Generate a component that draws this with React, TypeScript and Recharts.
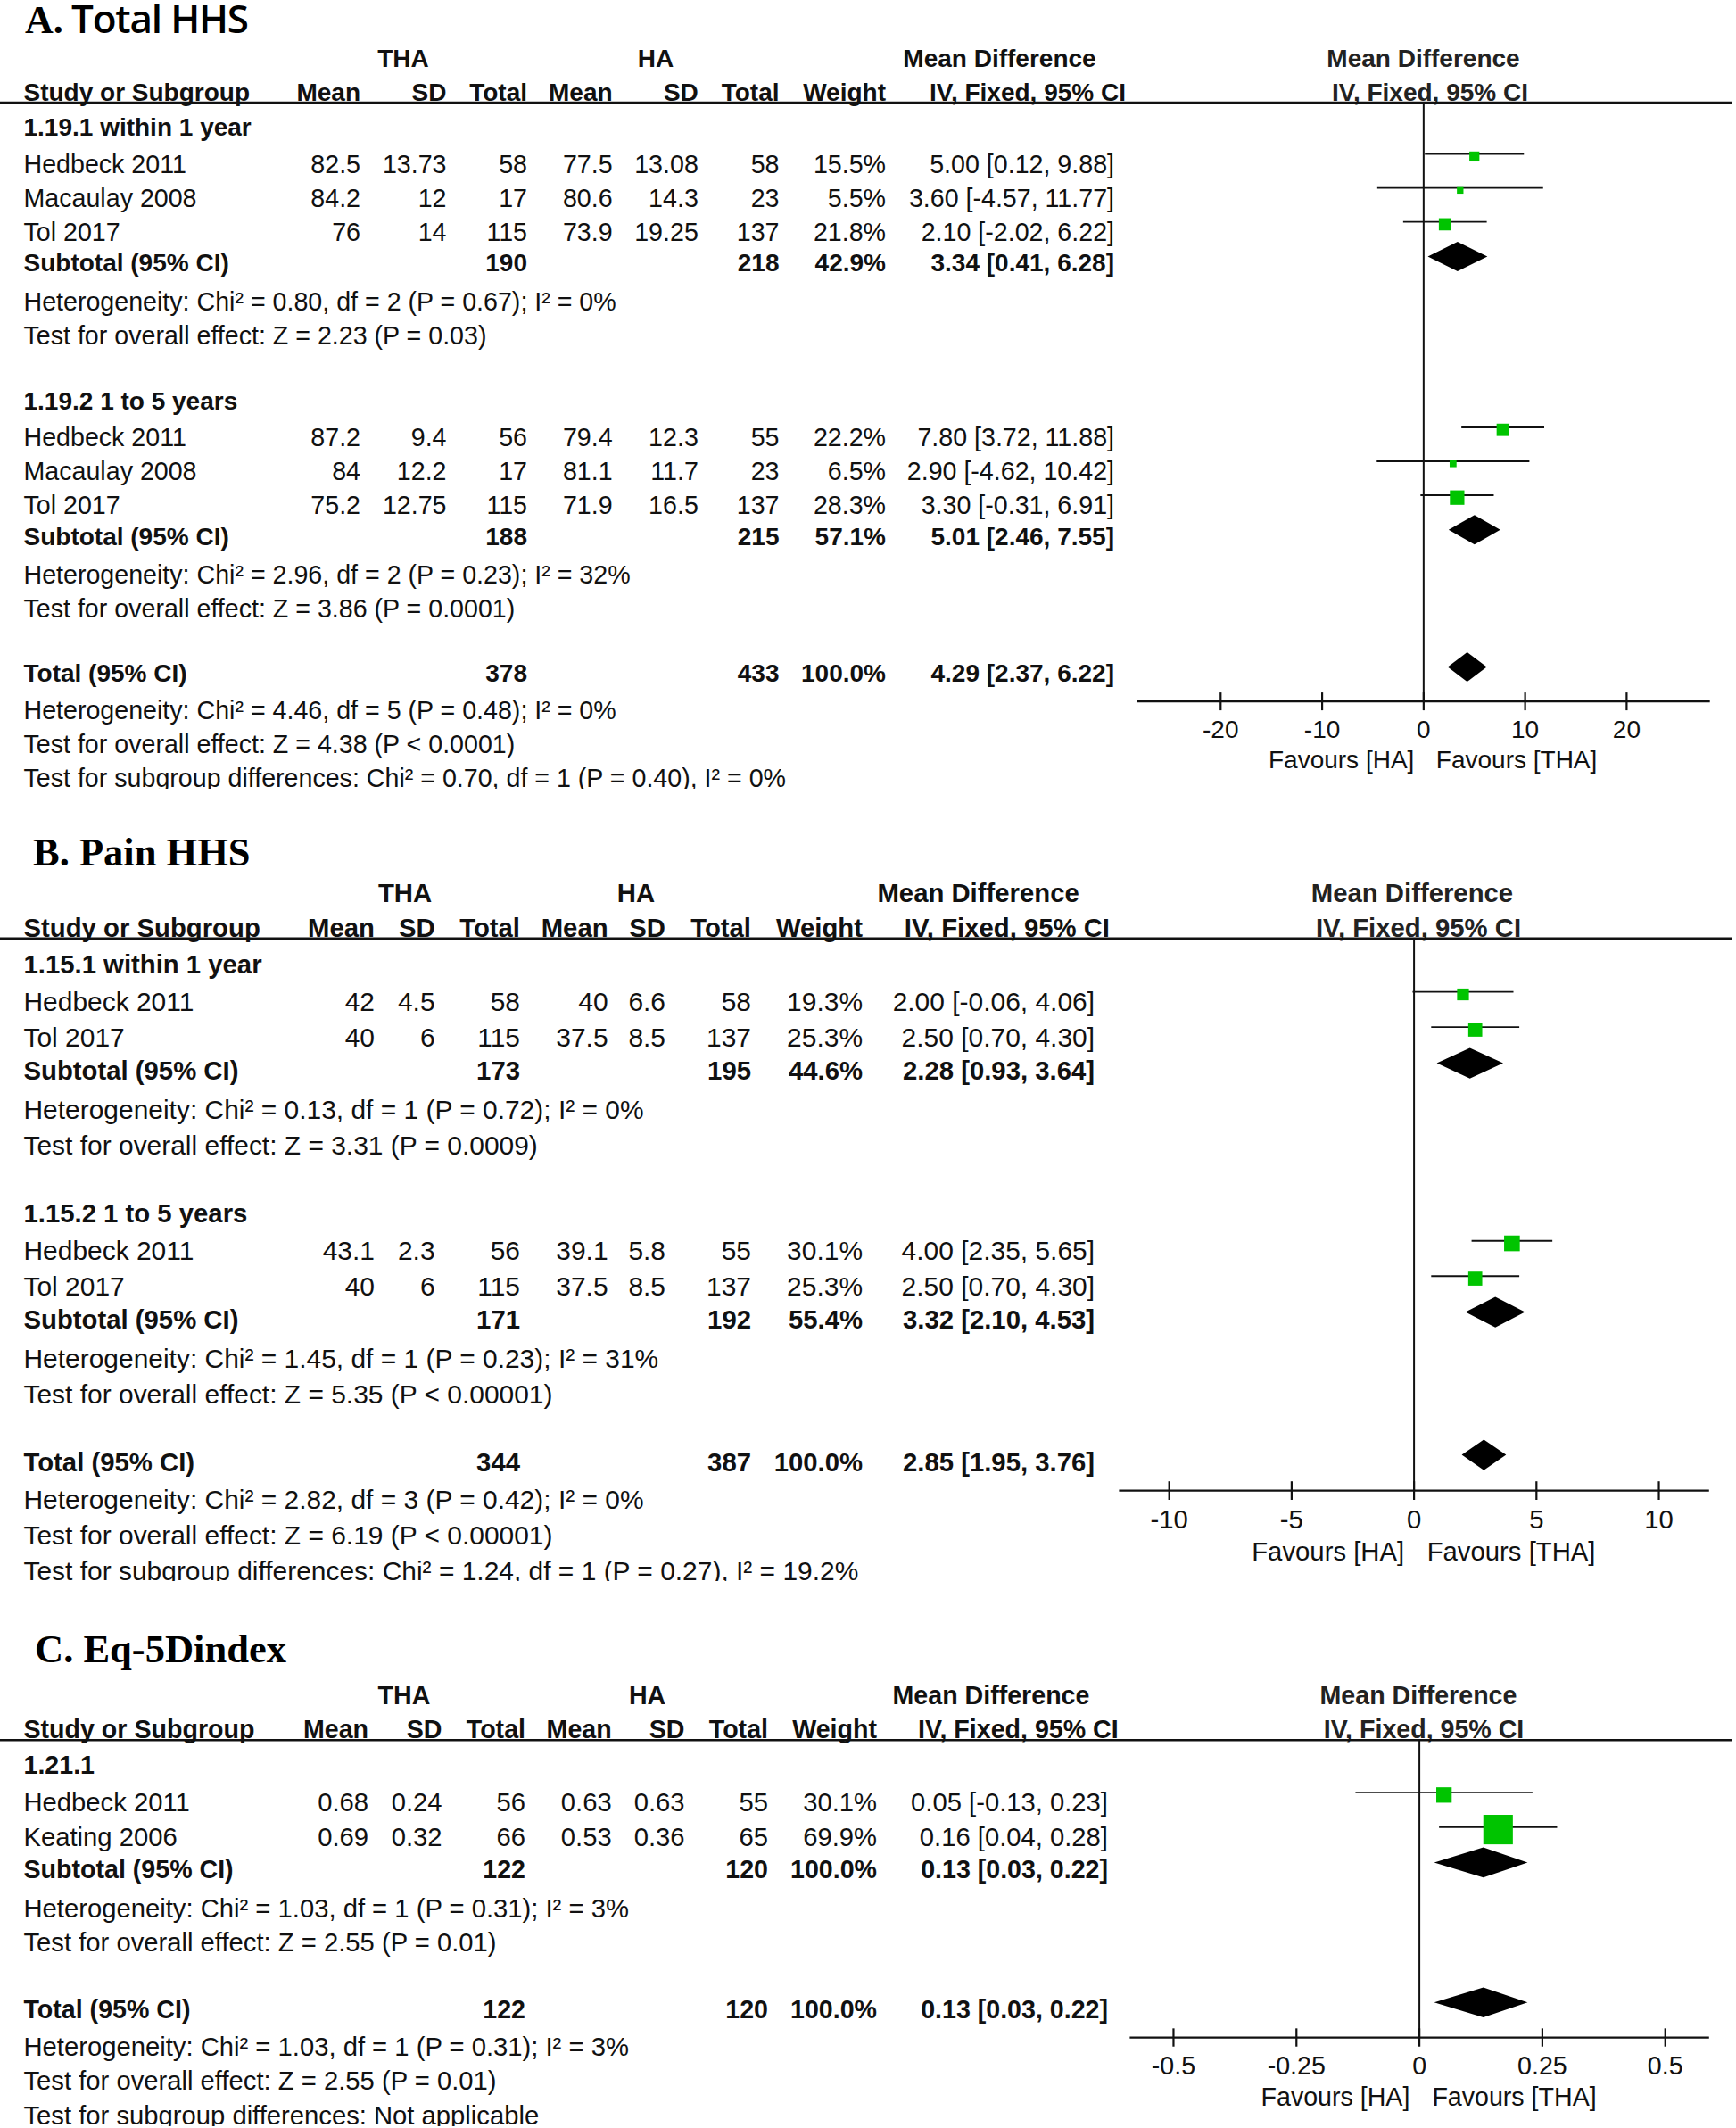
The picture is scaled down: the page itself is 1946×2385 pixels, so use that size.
import React from 'react';
import { ComposedChart, XAxis, YAxis, Scatter, ErrorBar, Area, ReferenceLine } from 'recharts';

// ================= Panel A : Total HHS =================
const aTitle = 'A. Total HHS';
const aG1Heading = '1.19.1 within 1 year';
const aG1Studies = ['Hedbeck 2011', 'Macaulay 2008', 'Tol 2017'];
const aG1Tha = [[82.5, 13.73, 58], [84.2, 12, 17], [76, 14, 115]]; // mean, sd, total
const aG1Ha = [[77.5, 13.08, 58], [80.6, 14.3, 23], [73.9, 19.25, 137]];
const aG1Weight = [15.5, 5.5, 21.8];
const aG1MD = [[5.0, 0.12, 9.88], [3.6, -4.57, 11.77], [2.1, -2.02, 6.22]]; // md, lo, hi
const aG1Sub = [190, 218, 42.9, 3.34, 0.41, 6.28]; // thaN, haN, weight, md, lo, hi
const aG1Het = 'Heterogeneity: Chi² = 0.80, df = 2 (P = 0.67); I² = 0%';
const aG1Test = 'Test for overall effect: Z = 2.23 (P = 0.03)';

const aG2Heading = '1.19.2 1 to 5 years';
const aG2Studies = ['Hedbeck 2011', 'Macaulay 2008', 'Tol 2017'];
const aG2Tha = [[87.2, 9.4, 56], [84, 12.2, 17], [75.2, 12.75, 115]];
const aG2Ha = [[79.4, 12.3, 55], [81.1, 11.7, 23], [71.9, 16.5, 137]];
const aG2Weight = [22.2, 6.5, 28.3];
const aG2MD = [[7.8, 3.72, 11.88], [2.9, -4.62, 10.42], [3.3, -0.31, 6.91]];
const aG2Sub = [188, 215, 57.1, 5.01, 2.46, 7.55];
const aG2Het = 'Heterogeneity: Chi² = 2.96, df = 2 (P = 0.23); I² = 32%';
const aG2Test = 'Test for overall effect: Z = 3.86 (P = 0.0001)';

const aTotal = [378, 433, 100.0, 4.29, 2.37, 6.22];
const aTotalHet = 'Heterogeneity: Chi² = 4.46, df = 5 (P = 0.48); I² = 0%';
const aTotalTest = 'Test for overall effect: Z = 4.38 (P < 0.0001)';
const aSubgroupTest = 'Test for subgroup differences: Chi² = 0.70, df = 1 (P = 0.40), I² = 0%';
const aTicks = [-20, -10, 0, 10, 20];

// ================= Panel B : Pain HHS =================
const bTitle = 'B. Pain HHS';
const bG1Heading = '1.15.1 within 1 year';
const bG1Studies = ['Hedbeck 2011', 'Tol 2017'];
const bG1Tha = [[42, 4.5, 58], [40, 6, 115]];
const bG1Ha = [[40, 6.6, 58], [37.5, 8.5, 137]];
const bG1Weight = [19.3, 25.3];
const bG1MD = [[2.0, -0.06, 4.06], [2.5, 0.7, 4.3]];
const bG1Sub = [173, 195, 44.6, 2.28, 0.93, 3.64];
const bG1Het = 'Heterogeneity: Chi² = 0.13, df = 1 (P = 0.72); I² = 0%';
const bG1Test = 'Test for overall effect: Z = 3.31 (P = 0.0009)';

const bG2Heading = '1.15.2 1 to 5 years';
const bG2Studies = ['Hedbeck 2011', 'Tol 2017'];
const bG2Tha = [[43.1, 2.3, 56], [40, 6, 115]];
const bG2Ha = [[39.1, 5.8, 55], [37.5, 8.5, 137]];
const bG2Weight = [30.1, 25.3];
const bG2MD = [[4.0, 2.35, 5.65], [2.5, 0.7, 4.3]];
const bG2Sub = [171, 192, 55.4, 3.32, 2.1, 4.53];
const bG2Het = 'Heterogeneity: Chi² = 1.45, df = 1 (P = 0.23); I² = 31%';
const bG2Test = 'Test for overall effect: Z = 5.35 (P < 0.00001)';

const bTotal = [344, 387, 100.0, 2.85, 1.95, 3.76];
const bTotalHet = 'Heterogeneity: Chi² = 2.82, df = 3 (P = 0.42); I² = 0%';
const bTotalTest = 'Test for overall effect: Z = 6.19 (P < 0.00001)';
const bSubgroupTest = 'Test for subgroup differences: Chi² = 1.24, df = 1 (P = 0.27), I² = 19.2%';
const bTicks = [-10, -5, 0, 5, 10];

// ================= Panel C : Eq-5D index =================
const cTitle = 'C. Eq-5Dindex';
const cG1Heading = '1.21.1';
const cG1Studies = ['Hedbeck 2011', 'Keating 2006'];
const cG1Tha = [[0.68, 0.24, 56], [0.69, 0.32, 66]];
const cG1Ha = [[0.63, 0.63, 55], [0.53, 0.36, 65]];
const cG1Weight = [30.1, 69.9];
const cG1MD = [[0.05, -0.13, 0.23], [0.16, 0.04, 0.28]];
const cG1Sub = [122, 120, 100.0, 0.13, 0.03, 0.22];
const cG1Het = 'Heterogeneity: Chi² = 1.03, df = 1 (P = 0.31); I² = 3%';
const cG1Test = 'Test for overall effect: Z = 2.55 (P = 0.01)';

const cTotal = [122, 120, 100.0, 0.13, 0.03, 0.22];
const cTotalHet = 'Heterogeneity: Chi² = 1.03, df = 1 (P = 0.31); I² = 3%';
const cTotalTest = 'Test for overall effect: Z = 2.55 (P = 0.01)';
const cSubgroupTest = 'Test for subgroup differences: Not applicable';
const cTicks = [-0.5, -0.25, 0, 0.25, 0.5];

// ================= Types & assembly =================
type Group = {
  heading: string; studies: string[]; tha: number[][]; ha: number[][]; weight: number[];
  md: number[][]; sub: number[]; het: string; test: string;
};
type PanelData = {
  title: string; groups: Group[]; total: number[]; totalHet: string; totalTest: string;
  subgroupTest: string; ticks: number[];
};

const panelA: PanelData = {
  title: aTitle,
  groups: [
    { heading: aG1Heading, studies: aG1Studies, tha: aG1Tha, ha: aG1Ha, weight: aG1Weight, md: aG1MD, sub: aG1Sub, het: aG1Het, test: aG1Test },
    { heading: aG2Heading, studies: aG2Studies, tha: aG2Tha, ha: aG2Ha, weight: aG2Weight, md: aG2MD, sub: aG2Sub, het: aG2Het, test: aG2Test },
  ],
  total: aTotal, totalHet: aTotalHet, totalTest: aTotalTest, subgroupTest: aSubgroupTest, ticks: aTicks,
};
const panelB: PanelData = {
  title: bTitle,
  groups: [
    { heading: bG1Heading, studies: bG1Studies, tha: bG1Tha, ha: bG1Ha, weight: bG1Weight, md: bG1MD, sub: bG1Sub, het: bG1Het, test: bG1Test },
    { heading: bG2Heading, studies: bG2Studies, tha: bG2Tha, ha: bG2Ha, weight: bG2Weight, md: bG2MD, sub: bG2Sub, het: bG2Het, test: bG2Test },
  ],
  total: bTotal, totalHet: bTotalHet, totalTest: bTotalTest, subgroupTest: bSubgroupTest, ticks: bTicks,
};
const panelC: PanelData = {
  title: cTitle,
  groups: [
    { heading: cG1Heading, studies: cG1Studies, tha: cG1Tha, ha: cG1Ha, weight: cG1Weight, md: cG1MD, sub: cG1Sub, het: cG1Het, test: cG1Test },
  ],
  total: cTotal, totalHet: cTotalHet, totalTest: cTotalTest, subgroupTest: cSubgroupTest, ticks: cTicks,
};

// ================= Layout / style =================
type Layout = {
  top: number; s: number; fs: number; titleSize: number; titleX: number; titleY: number; mixedTitle: boolean;
  lineY: number; cols: number[]; ivRight: number; thaC: number; haC: number; mdC: number;
  plotMdC: number; plotIvC: number; axisStart: number; axisEnd: number; domain: [number, number];
};

const layoutA: Layout = {
  top: 0, s: 1, fs: 28, titleSize: 44, titleX: 28, titleY: 37, mixedTitle: true,
  lineY: 115, cols: [404, 500.5, 591, 686.6, 782.8, 873.5, 993, 1249], ivRight: 1262,
  thaC: 452, haC: 735, mdC: 1120.5, plotMdC: 1595.5, plotIvC: 1603,
  axisStart: 1275, axisEnd: 1916.7, domain: [-28.2, 28.2],
};
const layoutB: Layout = {
  top: 890, s: 1.04, fs: 29.3, titleSize: 44.5, titleX: 37, titleY: 970, mixedTitle: false,
  lineY: 1051.7, cols: [420, 487.6, 583, 681.6, 746, 842, 967, 1227], ivRight: 1244,
  thaC: 454, haC: 713, mdC: 1096.6, plotMdC: 1583, plotIvC: 1590,
  axisStart: 1254.4, axisEnd: 1915.8, domain: [-12.05, 12.05],
};
const layoutC: Layout = {
  top: 1780, s: 1.02, fs: 28.6, titleSize: 44.5, titleX: 39, titleY: 1863, mixedTitle: false,
  lineY: 1950.2, cols: [413, 495.5, 589, 685.7, 767.5, 861, 983, 1242], ivRight: 1253.7,
  thaC: 453, haC: 725.6, mdC: 1111, plotMdC: 1590, plotIvC: 1596,
  axisStart: 1266.4, axisEnd: 1915.8, domain: [-0.589, 0.589],
};

const GAP = {
  lineToGroup: 27.7, groupToStudy: 40.8, studyToStudy: 38.0, studyToSubtotal: 35.2,
  subtotalToHet: 43.0, hetToTest: 37.8, testToGroup: 73.5, testToTotal: 73.0,
  totalToHet: 41.2, testToSubgroup: 38.5, totalToAxis: 31.3,
};
const CI_OFF = 10.8;     // CI line above text centre
const SQ_OFF = 8.1;      // square centre above text centre
const DIA_OFF = 7.2;     // diamond centre above text centre
const DIA_HALF = 16.5;   // diamond half height
const REG_SCALE = 1.022; // regular table text is a touch wider than bold headers

const FONT = '"Liberation Sans", Arial, Helvetica, sans-serif';
const SERIF = '"Liberation Serif", "Times New Roman", serif';
const INK = '#111';
const GREEN = '#00C400';
const LEFT_X = 26.5;

const num = (v: number) => String(v);
const pct = (v: number) => v.toFixed(1) + '%';
const ciText = (m: number, l: number, h: number) => `${m.toFixed(2)} [${l.toFixed(2)}, ${h.toFixed(2)}]`;

type Row = { y: number; cells: string[]; bold?: boolean };

function ForestPanel({ data, L }: { data: PanelData; L: Layout }) {
  const s = L.s;
  const fs = L.fs;
  const top = L.top;
  const rows: Row[] = [];
  const ciPts: any[] = [];
  const sqPts: any[] = [];
  const dias: { md: number; lo: number; hi: number; y: number }[] = [];

  let y = L.lineY;
  data.groups.forEach((g, gi) => {
    y += (gi === 0 ? GAP.lineToGroup : GAP.testToGroup) * s;
    rows.push({ y, cells: [g.heading], bold: true });
    g.studies.forEach((name, i) => {
      y += (i === 0 ? GAP.groupToStudy : GAP.studyToStudy) * s;
      const [m, lo, hi] = g.md[i];
      rows.push({
        y,
        cells: [name, num(g.tha[i][0]), num(g.tha[i][1]), num(g.tha[i][2]), num(g.ha[i][0]), num(g.ha[i][1]), num(g.ha[i][2]), pct(g.weight[i]), ciText(m, lo, hi)],
      });
      ciPts.push({ x: m, y: y - CI_OFF * s - top, err: [m - lo, hi - m] });
      sqPts.push({ x: m, y: y - SQ_OFF * s - top, w: g.weight[i] });
    });
    y += GAP.studyToSubtotal * s;
    const [n1, n2, w, m, lo, hi] = g.sub;
    rows.push({ y, bold: true, cells: ['Subtotal (95% CI)', '', '', num(n1), '', '', num(n2), pct(w), ciText(m, lo, hi)] });
    dias.push({ md: m, lo, hi, y: y - DIA_OFF * s - top });
    y += GAP.subtotalToHet * s;
    rows.push({ y, cells: [g.het] });
    y += GAP.hetToTest * s;
    rows.push({ y, cells: [g.test] });
  });
  y += GAP.testToTotal * s;
  const totalY = y;
  {
    const [n1, n2, w, m, lo, hi] = data.total;
    rows.push({ y, bold: true, cells: ['Total (95% CI)', '', '', num(n1), '', '', num(n2), pct(w), ciText(m, lo, hi)] });
    dias.push({ md: m, lo, hi, y: y - DIA_OFF * s - top });
  }
  y += GAP.totalToHet * s;
  rows.push({ y, cells: [data.totalHet] });
  y += GAP.hetToTest * s;
  rows.push({ y, cells: [data.totalTest] });
  y += GAP.testToSubgroup * s;
  rows.push({ y, cells: [data.subgroupTest] });

  const axisY = totalY + GAP.totalToAxis * s;
  const clip = Math.min(2385, y + 0.35 * fs + 1.5);
  const H = clip - top;
  const axisLocal = axisY - top;
  const lineLocal = L.lineY - top;
  const xAxisH = 110;
  const chartH = axisLocal + xAxisH;
  const zeroPx = L.axisStart + ((0 - L.domain[0]) / (L.domain[1] - L.domain[0])) * (L.axisEnd - L.axisStart);

  const txt = (key: string, x: number, yy: number, str: string, anchor: string, bold = false, color = INK, size?: number) => (
    <text key={key} x={x} y={yy - top} textAnchor={anchor as any} dominantBaseline="central"
      fontFamily={FONT} fontSize={size ?? (bold ? fs : fs * REG_SCALE)} fontWeight={bold ? 700 : 400} fill={color}>{str}</text>
  );

  const renderTick = (props: any) => {
    const { x, y: ty, payload } = props;
    return (
      <g>
        <line x1={x} x2={x} y1={ty - 10 * s} y2={ty + 10 * s} stroke="#111" strokeWidth={2.2} />
        <text x={x} y={ty + 31 * s} textAnchor="middle" dominantBaseline="central" fontFamily={FONT} fontSize={fs} fill={INK}>
          {String(payload.value)}
        </text>
      </g>
    );
  };

  const squareShape = (props: any) => {
    const { cx, cy, payload } = props;
    const size = (5.2 + 0.39 * payload.w) * s;
    return <rect x={cx - size / 2} y={cy - size / 2} width={size} height={size} fill={GREEN} />;
  };

  const h = DIA_HALF * s;
  const hy1 = L.lineY - 49.5 * s;
  const hy2 = L.lineY - 11.5 * s;
  const headers2 = ['Mean', 'SD', 'Total', 'Mean', 'SD', 'Total', 'Weight'];

  return (
    <div style={{ position: 'absolute', left: 0, top, width: 1946, height: H, overflow: 'hidden' }}>
      <div style={{ position: 'absolute', left: 0, top: 0 }}>
        <ComposedChart width={1946} height={chartH}
          margin={{ top: 0, left: L.axisStart, right: 1946 - L.axisEnd, bottom: 0 }}>
          <XAxis type="number" dataKey="x" domain={L.domain} ticks={data.ticks} interval={0} allowDataOverflow
            height={xAxisH} tickSize={0} tickMargin={0} tickLine={false}
            axisLine={{ stroke: '#111', strokeWidth: 2.2 }} tick={renderTick} />
          <YAxis type="number" dataKey="y" domain={[0, axisLocal]} reversed hide allowDataOverflow />
          <ReferenceLine segment={[{ x: 0, y: lineLocal }, { x: 0, y: axisLocal }]} stroke="#111" strokeWidth={2} />
          {dias.map((d, i) => (
            <Area key={'d' + i} type="linear" dataKey="y" isAnimationActive={false}
              data={[{ x: d.lo, y: [d.y, d.y] }, { x: d.md, y: [d.y - h, d.y + h] }, { x: d.hi, y: [d.y, d.y] }]}
              stroke="none" fill="#000" fillOpacity={1} dot={false} activeDot={false} />
          ))}
          <Scatter data={ciPts} isAnimationActive={false} shape={() => <g />}>
            <ErrorBar dataKey="err" direction="x" width={0} stroke="#111" strokeWidth={1.8} isAnimationActive={false} />
          </Scatter>
          <Scatter data={sqPts} isAnimationActive={false} shape={squareShape} zIndex={700} />
        </ComposedChart>
      </div>
      <svg width={1946} height={H} style={{ position: 'absolute', left: 0, top: 0 }}>
        {L.mixedTitle ? (
          <g>
            <text x={L.titleX} y={L.titleY - top} fontFamily={SERIF} fontWeight={700} fontSize={L.titleSize} fill="#000">
              {data.title.split(' ')[0]}
            </text>
            <text x={L.titleX + 52} y={L.titleY - top} fontFamily='"Open Sans", "Noto Sans", sans-serif' fontWeight={600}
              fontSize={L.titleSize} letterSpacing={-1.2} fill="#000">
              {data.title.split(' ').slice(1).join(' ')}
            </text>
          </g>
        ) : (
          <text x={L.titleX} y={L.titleY - top} fontFamily={SERIF} fontWeight={700} fontSize={L.titleSize} fill="#000">
            {data.title}
          </text>
        )}
        {txt('h1a', L.thaC, hy1, 'THA', 'middle', true)}
        {txt('h1b', L.haC, hy1, 'HA', 'middle', true)}
        {txt('h1c', L.mdC, hy1, 'Mean Difference', 'middle', true)}
        {txt('h1d', L.plotMdC, hy1, 'Mean Difference', 'middle', true, '#222')}
        {txt('h2a', LEFT_X, hy2, 'Study or Subgroup', 'start', true)}
        {headers2.map((t, i) => txt('h2' + i, L.cols[i], hy2, t, 'end', true))}
        {txt('h2iv', L.ivRight, hy2, 'IV, Fixed, 95% CI', 'end', true)}
        {txt('h2pv', L.plotIvC, hy2, 'IV, Fixed, 95% CI', 'middle', true, '#222')}
        <line x1={0} x2={1942} y1={L.lineY - top} y2={L.lineY - top} stroke="#111" strokeWidth={2.4} />
        {rows.map((r, ri) =>
          r.cells.map((c, ci) => {
            if (!c) return null;
            if (ci === 0) return txt(`r${ri}c0`, LEFT_X, r.y, c, 'start', r.bold);
            return txt(`r${ri}c${ci}`, L.cols[ci - 1], r.y, c, 'end', r.bold);
          })
        )}
        {txt('fha', zeroPx - 10.5 * s, axisY + 65.5 * s, 'Favours [HA]', 'end', false, INK, fs)}
        {txt('ftha', zeroPx + 14 * s, axisY + 65.5 * s, 'Favours [THA]', 'start', false, INK, fs)}
      </svg>
    </div>
  );
}

export default function App() {
  return (
    <div style={{ position: 'absolute', left: 0, top: 0, width: 1946, height: 2385, background: '#fff', overflow: 'hidden' }}>
      <ForestPanel data={panelA} L={layoutA} />
      <ForestPanel data={panelB} L={layoutB} />
      <ForestPanel data={panelC} L={layoutC} />
    </div>
  );
}
